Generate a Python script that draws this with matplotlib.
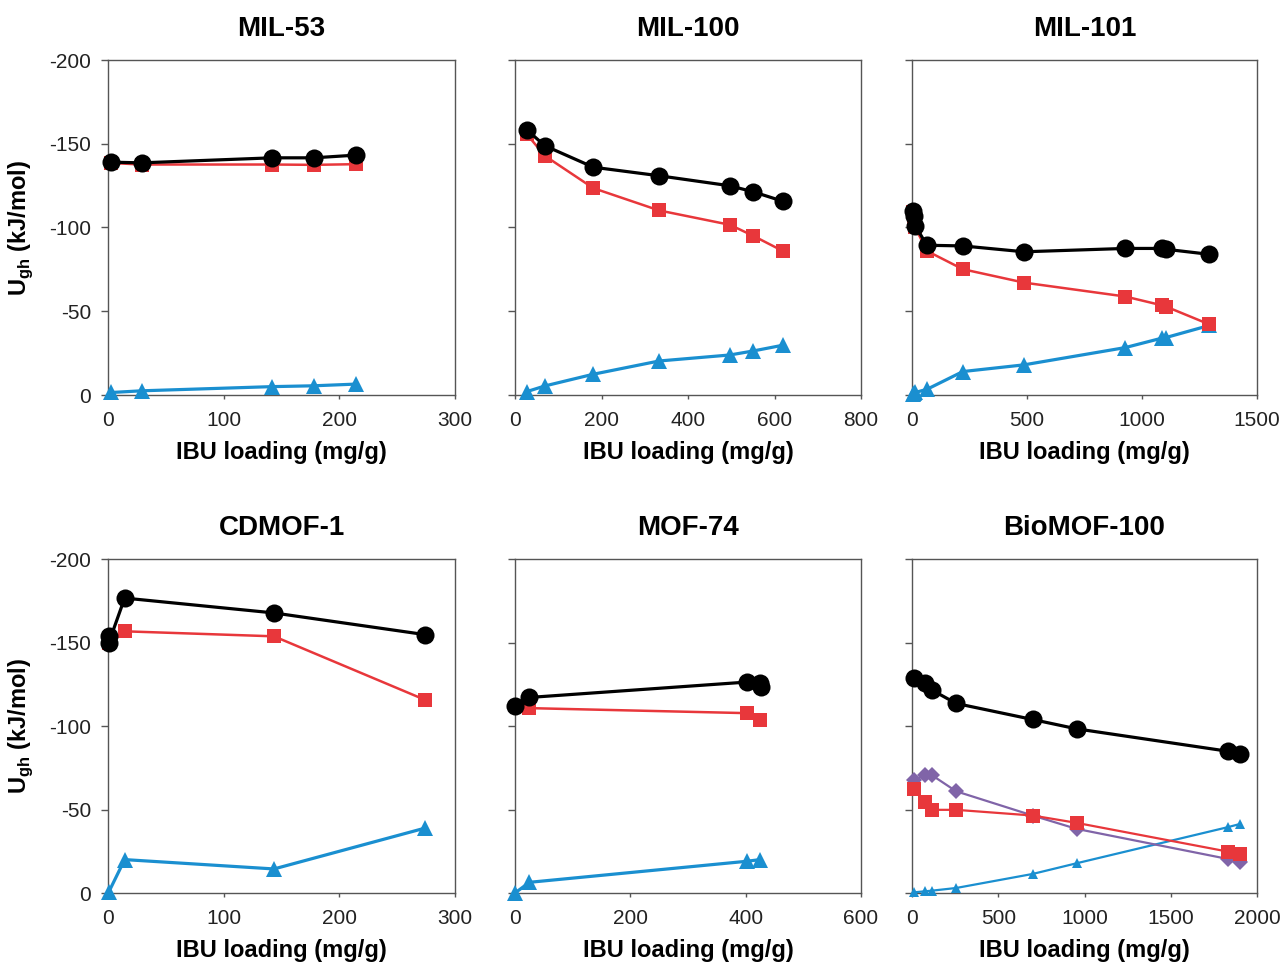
import matplotlib
matplotlib.use("Agg")
import matplotlib.pyplot as plt

plt.rcParams['font.family'] = ['Liberation Sans', 'DejaVu Sans']
plt.rcParams['mathtext.fontset'] = 'custom'
plt.rcParams['mathtext.rm'] = 'Liberation Sans'
plt.rcParams['mathtext.bf'] = 'Liberation Sans:bold'

# ---- data (U values in kJ/mol, IBU loading in mg/g) ----
titles = ["MIL-53", "MIL-100", "MIL-101", "CDMOF-1", "MOF-74", "BioMOF-100"]
xmax = [300, 800, 1500, 300, 600, 2000]
xticks = [[0, 100, 200, 300], [0, 200, 400, 600, 800], [0, 500, 1000, 1500],
          [0, 100, 200, 300], [0, 200, 400, 600], [0, 500, 1000, 1500, 2000]]

# MIL-53
mil53_x = [3, 29, 142, 178, 214]
mil53_black = [-139, -138.6, -141.6, -141.6, -143.2]
mil53_red = [-138.5, -137.6, -137.6, -137.4, -137.8]
mil53_blue = [-1.5, -2.5, -5, -5.5, -6.5]

# MIL-100
mil100_x = [27, 69, 181, 333, 497, 551, 619]
mil100_black = [-158.4, -148.8, -136, -130.9, -124.9, -121.3, -115.7]
mil100_red = [-155.8, -142.8, -123.5, -110.2, -101.6, -95, -86]
mil100_blue = [-2, -5.4, -12.4, -20.3, -23.9, -26.3, -29.7]

# MIL-101
mil101_x = [3, 7, 14, 65, 221, 487, 927, 1085, 1104, 1292]
mil101_black = [-110, -106.6, -101, -89.4, -89, -85.5, -87.5, -87.5, -87, -84]
mil101_red = [-109, -105, -100, -86, -75.1, -67.1, -58.8, -53.6, -52.8, -42.2]
mil101_blue = [-0.5, -1, -1.5, -3.4, -14, -18, -28.3, -33.9, -34.3, -41.5]

# CDMOF-1
cdmof_x = [0.6, 0.6, 14.4, 143.5, 274.3]
cdmof_black = [-153.7, -149.7, -176.6, -167.7, -154.7]
cdmof_red_x = [0.6, 14.4, 143.5, 274.3]
cdmof_red = [-149.7, -156.7, -153.7, -115.6]
cdmof_blue_x = [0.6, 14.4, 143.5, 274.3]
cdmof_blue = [-0.5, -20, -14.4, -38.9]

# MOF-74
mof74_black_x = [0, 25, 402, 425, 427]
mof74_black = [-111.7, -117.1, -126.3, -126, -123.3]
mof74_red_x = [25, 402, 425]
mof74_red = [-110.7, -107.7, -103.7]
mof74_blue_x = [0, 25, 402, 425]
mof74_blue = [0, -6.4, -19, -20]

# BioMOF-100
bio_x = [12, 73, 116, 256, 699, 954, 1830, 1904]
bio_black = [-128.5, -126, -121.5, -113.5, -103.9, -98.3, -84.9, -83.1]
bio_purple = [-67.5, -70.5, -70.5, -60.9, -46.4, -38.4, -20.4, -18.4]
bio_red = [-62.5, -54.5, -49.8, -49.8, -46.4, -42, -24.8, -23.4]
bio_blue = [-0.4, -1, -1.4, -3, -11.4, -17.8, -39.4, -41.4]

BLACK = "#000000"
RED = "#e8373b"
BLUE = "#1a8fd0"
PURPLE = "#8064a8"

fig = plt.figure(figsize=(12.82, 9.63), dpi=100)
W, H = 1282, 963
cols = [(108, 455), (515, 861), (912, 1257)]
rows = [(60, 395), (559, 893)]

axes = []
for r, (top, bot) in enumerate(rows):
    for c, (l, rr) in enumerate(cols):
        ax = fig.add_axes([l / W, 1 - bot / H, (rr - l) / W, (bot - top) / H])
        axes.append(ax)

def big(ax, x, y, color, marker, ms, lw, z):
    ax.plot(x, y, color=color, marker=marker, ms=ms, lw=lw, zorder=z, clip_on=False,
            markeredgewidth=0)

# panel data
big(axes[0], mil53_x, mil53_blue, BLUE, '^', 11, 2.3, 3)
big(axes[0], mil53_x, mil53_red, RED, 's', 10, 1.8, 4)
big(axes[0], mil53_x, mil53_black, BLACK, 'o', 13, 2.3, 5)

big(axes[1], mil100_x, mil100_blue, BLUE, '^', 11, 2.3, 3)
big(axes[1], mil100_x, mil100_red, RED, 's', 10, 1.8, 4)
big(axes[1], mil100_x, mil100_black, BLACK, 'o', 13, 2.3, 5)

big(axes[2], mil101_x, mil101_blue, BLUE, '^', 11, 2.3, 3)
big(axes[2], mil101_x, mil101_red, RED, 's', 10, 1.8, 4)
big(axes[2], mil101_x, mil101_black, BLACK, 'o', 13, 2.3, 5)

big(axes[3], cdmof_blue_x, cdmof_blue, BLUE, '^', 11, 2.3, 3)
big(axes[3], cdmof_red_x, cdmof_red, RED, 's', 10, 1.8, 4)
big(axes[3], cdmof_x, cdmof_black, BLACK, 'o', 13, 2.3, 5)

big(axes[4], mof74_blue_x, mof74_blue, BLUE, '^', 11, 2.3, 3)
big(axes[4], mof74_red_x, mof74_red, RED, 's', 10, 1.8, 4)
big(axes[4], mof74_black_x, mof74_black, BLACK, 'o', 13, 2.3, 5)

big(axes[5], bio_x, bio_blue, BLUE, '^', 7.5, 1.6, 3)
big(axes[5], bio_x, bio_purple, PURPLE, 'D', 8.5, 1.6, 3.5)
big(axes[5], bio_x, bio_red, RED, 's', 10, 1.6, 4)
big(axes[5], bio_x, bio_black, BLACK, 'o', 13, 2.3, 5)

for i, ax in enumerate(axes):
    ax.set_xlim(0, xmax[i])
    ax.set_ylim(0, -200)
    ax.set_xticks(xticks[i])
    ax.set_yticks([0, -50, -100, -150, -200])
    for s in ax.spines.values():
        s.set_color("#555555")
        s.set_linewidth(1.0)
    ax.tick_params(axis='y', direction='out', length=5, width=1, color="#555555",
                   labelsize=15, pad=7, labelcolor="#222222")
    ax.tick_params(axis='x', direction='out', length=3, width=1, color="#555555",
                   labelsize=15, pad=8.5, labelcolor="#222222")
    ax.set_title(titles[i], fontsize=20, fontweight='bold', pad=17)
    ax.set_xlabel("IBU loading (mg/g)", fontsize=17, fontweight='bold', labelpad=8)
    if i % 3 == 0:
        ax.set_yticklabels(["0", "-50", "-100", "-150", "-200"])
        ax.set_ylabel(r"U$_{\mathbf{gh}}$ (kJ/mol)", fontsize=17, fontweight='bold',
                      labelpad=10)
    else:
        ax.set_yticklabels([])

fig.savefig("out.png", dpi=100)
